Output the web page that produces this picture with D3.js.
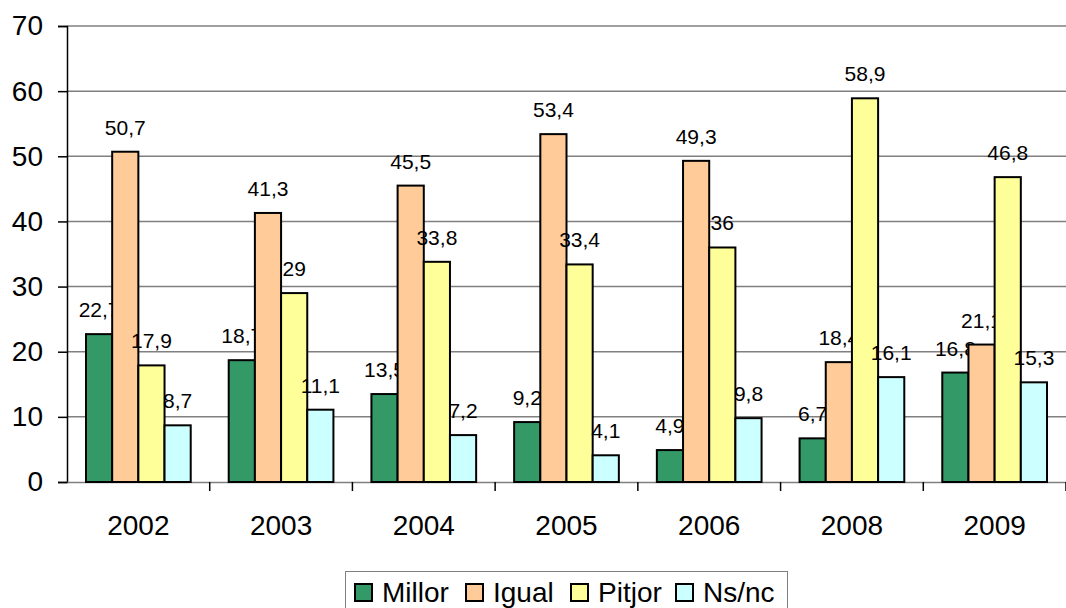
<!DOCTYPE html>
<html>
<head>
<meta charset="utf-8">
<script src="https://cdn.jsdelivr.net/npm/d3@7"></script>
<style>
  body { margin: 0; background: #fff; }
  svg { display: block; font-family: Arial, "Liberation Sans", sans-serif; }
</style>
</head>
<body>
<svg id="chart" width="1066" height="608"></svg>
<script>
// chart data
var years = ["2002", "2003", "2004", "2005", "2006", "2008", "2009"];
var seriesNames = ["Millor", "Igual", "Pitjor", "Ns/nc"];
var millor = [22.7, 18.7, 13.5, 9.2, 4.9, 6.7, 16.8];
var igual = [50.7, 41.3, 45.5, 53.4, 49.3, 18.4, 21.1];
var pitjor = [17.9, 29, 33.8, 33.4, 36, 58.9, 46.8];
var nsnc = [8.7, 11.1, 7.2, 4.1, 9.8, 16.1, 15.3];
var yTicks = [0, 10, 20, 30, 40, 50, 60, 70];
var colors = ["#339966", "#FFCC99", "#FFFF99", "#CCFFFF"];

var allSeries = [millor, igual, pitjor, nsnc];

var svg = d3.select("#chart");
var plotLeft = 67, plotRight = 1066, plotTop = 26, plotBottom = 482;
var fontStack = "Arial, 'Liberation Sans', sans-serif";

var x = d3.scaleBand().domain(years).range([plotLeft, plotRight]).paddingInner(0).paddingOuter(0);
var inner = d3.scaleBand().domain(seriesNames).range([19, x.bandwidth() - 19]).padding(0);
var y = d3.scaleLinear().domain([0, 70]).range([plotBottom, plotTop]);

// grid lines
svg.append("g")
    .selectAll("line")
    .data(yTicks.filter(function (d) { return d > 0; }))
    .join("line")
    .attr("x1", plotLeft)
    .attr("x2", plotRight)
    .attr("y1", function (d) { return y(d); })
    .attr("y2", function (d) { return y(d); })
    .attr("stroke", "#808080")
    .attr("stroke-width", 1.5);

// y axis
var yAxis = svg.append("g")
    .attr("transform", "translate(" + plotLeft + ",0)")
    .call(d3.axisLeft(y).tickValues(yTicks).tickSize(9).tickPadding(15));
yAxis.select(".domain").attr("stroke", "#000").attr("stroke-width", 1.5);
yAxis.selectAll(".tick line").attr("stroke", "#000").attr("stroke-width", 1.5);
yAxis.selectAll("text")
    .attr("font-size", 28)
    .attr("fill", "#000")
    .attr("font-family", fontStack);

// x axis
var xAxis = svg.append("g")
    .attr("transform", "translate(0," + plotBottom + ")")
    .call(d3.axisBottom(x).tickSize(0).tickPadding(33));
xAxis.select(".domain").attr("stroke", "#808080").attr("stroke-width", 1.5);
xAxis.selectAll("text")
    .attr("font-size", 28)
    .attr("fill", "#000")
    .attr("font-family", fontStack);

// category separators
svg.append("g")
    .selectAll("line")
    .data(years)
    .join("line")
    .attr("x1", function (d) { return x(d) + x.bandwidth(); })
    .attr("x2", function (d) { return x(d) + x.bandwidth(); })
    .attr("y1", plotBottom)
    .attr("y2", plotBottom + 9)
    .attr("stroke", "#000")
    .attr("stroke-width", 1.5);

// bars
var fmt = function (v) { return String(v).replace(".", ","); };

allSeries.forEach(function (values, si) {
    var g = svg.append("g");
    g.selectAll("rect")
        .data(values)
        .join("rect")
        .attr("x", function (d, i) { return x(years[i]) + inner(seriesNames[si]); })
        .attr("y", function (d) { return y(d); })
        .attr("width", inner.bandwidth())
        .attr("height", function (d) { return plotBottom - y(d); })
        .attr("fill", colors[si])
        .attr("stroke", "#000")
        .attr("stroke-width", 2);

    g.selectAll("text")
        .data(values)
        .join("text")
        .attr("x", function (d, i) { return x(years[i]) + inner(seriesNames[si]) + inner.bandwidth() / 2; })
        .attr("y", function (d) { return y(d) - 17; })
        .attr("text-anchor", "middle")
        .attr("font-size", 21)
        .attr("fill", "#000")
        .text(fmt);
});

// legend
var legend = svg.append("g");
legend.append("rect")
    .attr("x", 345.5)
    .attr("y", 571.5)
    .attr("width", 442)
    .attr("height", 40)
    .attr("fill", "#fff")
    .attr("stroke", "#808080")
    .attr("stroke-width", 1);

var legendX = [355, 466, 571, 676];
seriesNames.forEach(function (name, i) {
    legend.append("rect")
        .attr("x", legendX[i])
        .attr("y", 584)
        .attr("width", 17)
        .attr("height", 17)
        .attr("fill", colors[i])
        .attr("stroke", "#000")
        .attr("stroke-width", 2);
    legend.append("text")
        .attr("x", legendX[i] + 27)
        .attr("y", 602)
        .attr("font-size", 28)
        .attr("fill", "#000")
        .text(name);
});
</script>
</body>
</html>
